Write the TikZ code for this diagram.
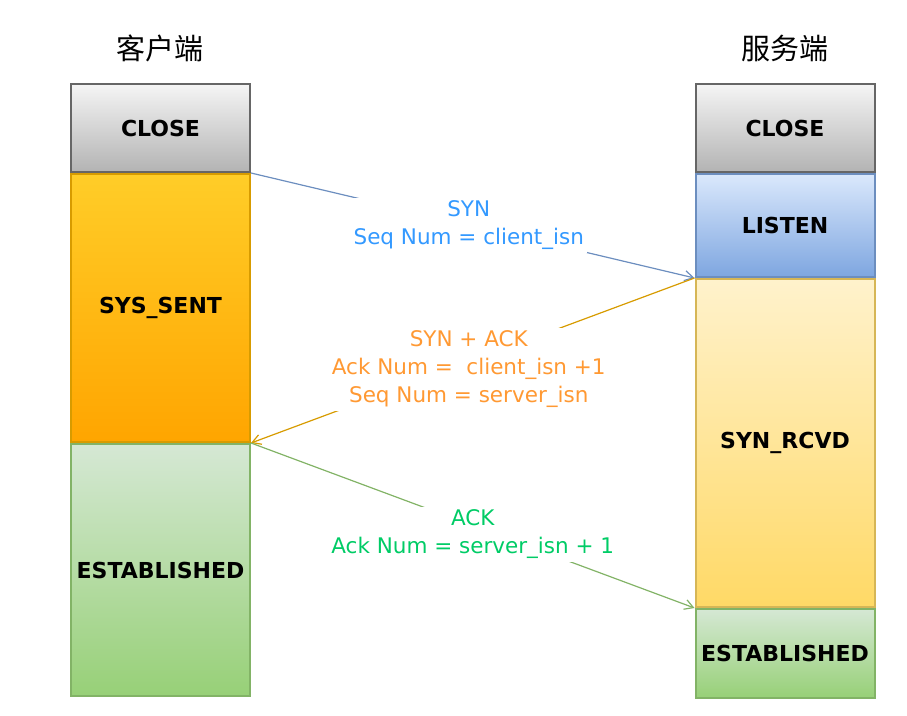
\documentclass[tikz,border=0pt]{standalone}
\usepackage{fontspec}
\setmainfont{DejaVu Sans}
\newfontfamily\cjk{Noto Sans CJK SC}
\usepackage{tikz}
\usetikzlibrary{positioning,arrows.meta}
\definecolor{closefg}{HTML}{666666}
\definecolor{closetop}{HTML}{F5F5F5}
\definecolor{closebot}{HTML}{B3B3B3}
\definecolor{sentfg}{HTML}{D79B00}
\definecolor{senttop}{HTML}{FFCD28}
\definecolor{sentbot}{HTML}{FFA500}
\definecolor{estfg}{HTML}{82B366}
\definecolor{esttop}{HTML}{D5E8D4}
\definecolor{estbot}{HTML}{97D077}
\definecolor{listenfg}{HTML}{6C8EBF}
\definecolor{listentop}{HTML}{DAE8FC}
\definecolor{listenbot}{HTML}{7EA6E0}
\definecolor{rcvdfg}{HTML}{D6B656}
\definecolor{rcvdtop}{HTML}{FFF2CC}
\definecolor{rcvdbot}{HTML}{FFD966}
\definecolor{synclr}{HTML}{3399FF}
\definecolor{synackclr}{HTML}{FF9933}
\definecolor{ackclr}{HTML}{00CC66}

\begin{document}
\begin{tikzpicture}[
  x=1pt, y=-1pt,
  font=\fontsize{21.5}{28}\selectfont,
  state/.style={draw, line width=2pt, shading=axis, inner sep=0pt, minimum width=179pt, font=\bfseries\fontsize{22}{24}\selectfont},
  closebox/.style={state, draw=closefg, top color=closetop, bottom color=closebot},
  sentbox/.style={state, draw=sentfg, top color=senttop, bottom color=sentbot},
  estbox/.style={state, draw=estfg, top color=esttop, bottom color=estbot},
  listenbox/.style={state, draw=listenfg, top color=listentop, bottom color=listenbot},
  rcvdbox/.style={state, draw=rcvdfg, top color=rcvdtop, bottom color=rcvdbot},
  title/.style={font=\cjk\fontsize{29}{32}\selectfont},
  msg/.style={fill=white, align=center, inner sep=3pt},
  arrow/.style={-{Straight Barb[angle=60:10pt]}, line width=1.2pt}
]
\useasboundingbox (0,0) rectangle (907,715);

% client side
\node[closebox, minimum height=88pt] (cclose) at (160.5,128) {CLOSE};
\node[sentbox, minimum height=268pt, below=0pt of cclose] (csent) {SYS\_SENT};
\node[estbox, minimum height=252pt, below=0pt of csent] (cest) {ESTABLISHED};
\node[title] (client) at (160,48) {客户端};

% server side
\node[closebox, minimum height=88pt] (sclose) at (785,128) {CLOSE};
\node[listenbox, minimum height=103pt, below=0pt of sclose] (slisten) {LISTEN};
\node[rcvdbox, minimum height=328pt, below=0pt of slisten] (srcvd) {SYN\_RCVD};
\node[estbox, minimum height=89pt, below=0pt of srcvd] (sest) {ESTABLISHED};
\node[title] (server) at (785,48) {服务端};

% handshake
\draw[arrow, listenfg] (cclose.south east) -- node[msg, text=synclr, xshift=-4pt] {SYN\\Seq Num = client\_isn} (slisten.south west);
\draw[arrow, sentfg] (slisten.south west) -- node[msg, text=synackclr, yshift=-9pt, xshift=-4pt] {SYN + ACK\\Ack Num = \ client\_isn +1\\Seq Num = server\_isn} (csent.south east);
\draw[arrow, estfg] (csent.south east) -- node[msg, text=ackclr, yshift=-9pt] {ACK\\Ack Num = server\_isn + 1} (srcvd.south west);
\end{tikzpicture}
\end{document}
